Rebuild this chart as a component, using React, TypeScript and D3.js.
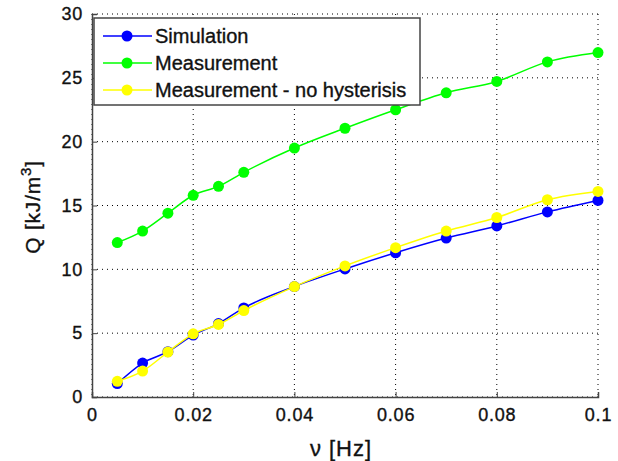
import React, { useEffect, useRef } from 'react';
import * as d3 from 'd3';

// frequency in Hz
const freqs = [0.005, 0.01, 0.015, 0.02, 0.025, 0.03, 0.04, 0.05, 0.06, 0.07, 0.08, 0.09, 0.1];
const simulation = [1.05, 2.66, 3.55, 4.85, 5.75, 6.98, 8.65, 10.03, 11.3, 12.45, 13.4, 14.5, 15.4];
const measurement = [12.1, 13.0, 14.4, 15.8, 16.5, 17.6, 19.5, 21.05, 22.5, 23.83, 24.72, 26.25, 26.98];
const noHysteresis = [1.23, 2.03, 3.52, 4.95, 5.68, 6.77, 8.65, 10.27, 11.7, 13.0, 14.06, 15.45, 16.1];

const xTicks = [0, 0.02, 0.04, 0.06, 0.08, 0.1];
const yTicks = [0, 5, 10, 15, 20, 25, 30];

const seriesNames = ['Simulation', 'Measurement', 'Measurement - no hysterisis'];
const seriesColors = ['#0000ff', '#00ff00', '#ffff00'];

const FONT = 'Liberation Sans, Arial, sans-serif';

const App = () => {
  const svgRef = useRef<SVGSVGElement>(null);

  useEffect(() => {
    const svg = d3.select(svgRef.current);
    svg.selectAll('*').remove();

    const margin = { top: 14, left: 92 };
    const width = 598 - margin.left;
    const height = 397 - margin.top;

    const x = d3.scaleLinear().domain([0, 0.1]).range([0, width]);
    const y = d3.scaleLinear().domain([0, 30]).range([height, 0]);

    const g = svg.append('g').attr('transform', `translate(${margin.left},${margin.top})`);

    // dotted grid
    g.selectAll('.vgrid')
      .data(xTicks)
      .enter()
      .append('line')
      .attr('x1', (d) => x(d))
      .attr('x2', (d) => x(d))
      .attr('y1', 0)
      .attr('y2', height)
      .attr('stroke', '#000')
      .attr('stroke-width', 1)
      .attr('stroke-dasharray', '1,4');
    g.selectAll('.hgrid')
      .data(yTicks)
      .enter()
      .append('line')
      .attr('x1', 0)
      .attr('x2', width)
      .attr('y1', (d) => y(d))
      .attr('y2', (d) => y(d))
      .attr('stroke', '#000')
      .attr('stroke-width', 1)
      .attr('stroke-dasharray', '1,4');

    // axes
    const xAxis = d3.axisBottom(x).tickValues(xTicks).tickSize(-5).tickPadding(11).tickFormat((d) => String(+d));
    const yAxis = d3.axisLeft(y).tickValues(yTicks).tickSize(-5).tickPadding(9);

    const gx = g.append('g').attr('transform', `translate(0,${height})`).call(xAxis);
    const gy = g.append('g').call(yAxis);
    [gx, gy].forEach((a) => {
      a.select('.domain').attr('stroke', '#444').attr('stroke-width', 1.5);
      a.selectAll('.tick line').attr('stroke', '#444');
      a.selectAll('.tick text')
        .attr('font-family', FONT)
        .attr('font-size', 18)
        .attr('letter-spacing', 0.8)
        .attr('fill', '#111')
        .attr('stroke', '#111')
        .attr('stroke-width', 0.35);
    });

    const allSeries = [simulation, measurement, noHysteresis];
    const line = d3
      .line<number>()
      .x((_, i) => x(freqs[i]))
      .y((d) => y(d))
      .curve(d3.curveMonotoneX);

    allSeries.forEach((vals, k) => {
      g.append('path')
        .datum(vals)
        .attr('fill', 'none')
        .attr('stroke', seriesColors[k])
        .attr('stroke-width', 1.5)
        .attr('d', line);
      g.selectAll(`.pt${k}`)
        .data(vals)
        .enter()
        .append('circle')
        .attr('cx', (_, i) => x(freqs[i]))
        .attr('cy', (d) => y(d))
        .attr('r', 5.5)
        .attr('fill', seriesColors[k]);
    });

    // legend
    const leg = svg.append('g').attr('transform', 'translate(94,18)');
    leg.append('rect')
      .attr('width', 326)
      .attr('height', 87)
      .attr('fill', '#fff')
      .attr('stroke', '#444')
      .attr('stroke-width', 1.5);
    seriesNames.forEach((name, k) => {
      const ry = 18 + k * 27;
      leg.append('line')
        .attr('x1', 9)
        .attr('x2', 58)
        .attr('y1', ry)
        .attr('y2', ry)
        .attr('stroke', seriesColors[k])
        .attr('stroke-width', 1.5);
      leg.append('circle').attr('cx', 33).attr('cy', ry).attr('r', 5.5).attr('fill', seriesColors[k]);
      leg.append('text')
        .attr('x', 61)
        .attr('y', ry)
        .attr('dy', '0.36em')
        .attr('font-family', FONT)
        .attr('font-size', 20)
        .attr('fill', '#111')
        .attr('stroke', '#111')
        .attr('stroke-width', 0.35)
        .text(name);
    });

    // axis labels
    svg.append('text')
      .attr('x', 341)
      .attr('y', 456)
      .attr('text-anchor', 'middle')
      .attr('font-family', FONT)
      .attr('font-size', 22)
      .attr('letter-spacing', 1)
      .attr('fill', '#111')
      .attr('stroke', '#111')
      .attr('stroke-width', 0.35)
      .text('ν [Hz]');

    const yl = svg.append('text')
      .attr('transform', `translate(40,207) rotate(-90)`)
      .attr('text-anchor', 'middle')
      .attr('font-family', FONT)
      .attr('font-size', 21)
      .attr('letter-spacing', 0.8)
      .attr('fill', '#111')
      .attr('stroke', '#111')
      .attr('stroke-width', 0.35);
    yl.append('tspan').text('Q [kJ/m');
    yl.append('tspan').attr('font-size', 15).attr('dy', -9).text('3');
    yl.append('tspan').attr('dy', 9).text(']');
  }, []);

  return (
    <div style={{ position: 'absolute', left: 0, top: 0, background: '#fff' }}>
      <svg ref={svgRef} width={618} height={461} style={{ display: 'block' }}></svg>
    </div>
  );
};

export default App;
